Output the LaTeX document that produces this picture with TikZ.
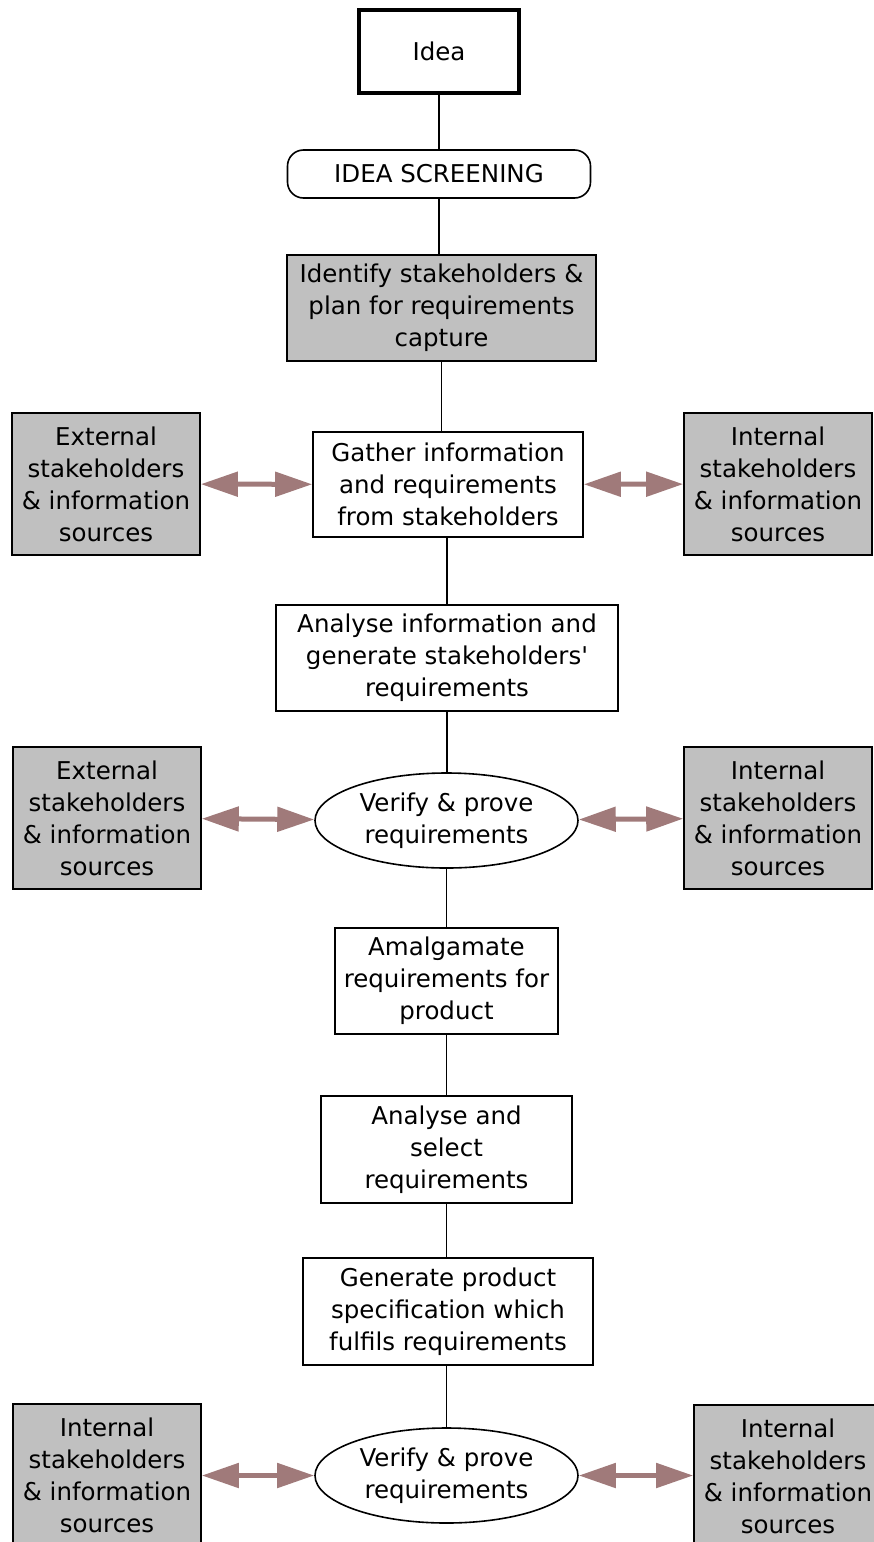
\documentclass[tikz,border=0pt]{standalone}
\usepackage{fontspec}
\setmainfont{DejaVu Sans}
\usepackage{xcolor}
\usetikzlibrary{shapes,arrows.meta,positioning,calc,shapes.geometric}
\definecolor{boxgray}{RGB}{192,192,192}
\definecolor{linkbrown}{RGB}{160,122,122}

\begin{document}
\begin{tikzpicture}[x=1pt, y=-1pt, font=\fontsize{24.5}{32}\selectfont]
% Define styles for different types of nodes
\tikzstyle{block} = [rectangle, draw, line width=1.6pt, align=center, inner sep=0pt]
\tikzstyle{source} = [block, fill=boxgray, minimum width=188pt, minimum height=142pt]
\tikzstyle{verify} = [ellipse, draw, line width=1.6pt, align=center, inner sep=0pt, minimum width=263pt, minimum height=95pt]
\tikzstyle{line} = [draw, line width=1.6pt]
\tikzstyle{link} = [draw=linkbrown, line width=5pt, >={Triangle[length=37pt,width=24pt]}, <->]

\useasboundingbox (0,0) rectangle (874,1542);

% Place nodes
\node [block, line width=4pt, minimum width=160pt, minimum height=83pt] (idea) at (439,51.5) {Idea};
\node [block, rounded corners=16pt, minimum width=303pt, minimum height=48pt] (screen) at (439,174) {IDEA SCREENING};
\node [block, fill=boxgray, minimum width=309pt, minimum height=106pt] (ident) at (441.5,308) {Identify stakeholders \&\\plan for requirements\\capture};
\node [block, minimum width=270pt, minimum height=105pt] (gather) at (448,484.5) {Gather information\\and requirements\\from stakeholders};
\node [source] (ext1) at (106,484) {External\\stakeholders\\\& information\\sources};
\node [source] (int1) at (778,484) {Internal\\stakeholders\\\& information\\sources};
\node [block, minimum width=342pt, minimum height=106pt] (analyse) at (447,658) {Analyse information and\\generate stakeholders\textquotesingle\\requirements};
\node [verify] (verify1) at (446.5,820.5) {Verify \& prove\\requirements};
\node [source] (ext2) at (107,818) {External\\stakeholders\\\& information\\sources};
\node [source] (int2) at (778,818) {Internal\\stakeholders\\\& information\\sources};
\node [block, minimum width=223pt, minimum height=106pt] (amalg) at (446.5,981) {Amalgamate\\requirements for\\product};
\node [block, minimum width=251pt, minimum height=107pt] (select) at (446.5,1149.5) {Analyse and\\select\\requirements};
\node [block, minimum width=290pt, minimum height=107pt] (spec) at (448,1311.5) {Generate product\\specification which\\fulfils requirements};
\node [verify] (verify2) at (446.5,1475.5) {Verify \& prove\\requirements};
\node [source] (int3) at (107,1475) {Internal\\stakeholders\\\& information\\sources};
\node [source] (int4) at (788,1476) {Internal\\stakeholders\\\& information\\sources};

% Connect nodes with lines
\path [line] (idea) -- (screen);
\path [line] (screen) -- (screen |- ident.north);
\path [line] (ident.south) -- (ident.south |- gather.north);
\path [line] (analyse.north |- gather.south) -- (analyse.north);
\path [line] (analyse.south) -- (analyse.south |- verify1.north);
\path [line] (verify1.south) -- (verify1.south |- amalg.north);
\path [line] (amalg.south) -- (amalg.south |- select.north);
\path [line] (select.south) -- (select.south |- spec.north);
\path [line] (verify2.north |- spec.south) -- (verify2.north);

% Two-way links to the stakeholders
\path [link] (ext1) -- (gather);
\path [link] (gather) -- (int1);
\path [link] (ext2) -- (verify1);
\path [link] (verify1) -- (int2);
\path [link] (int3.east |- verify2.west) -- (verify2.west);
\path [link] (verify2.east) -- (verify2.east -| int4.west);

\end{tikzpicture}
\end{document}
